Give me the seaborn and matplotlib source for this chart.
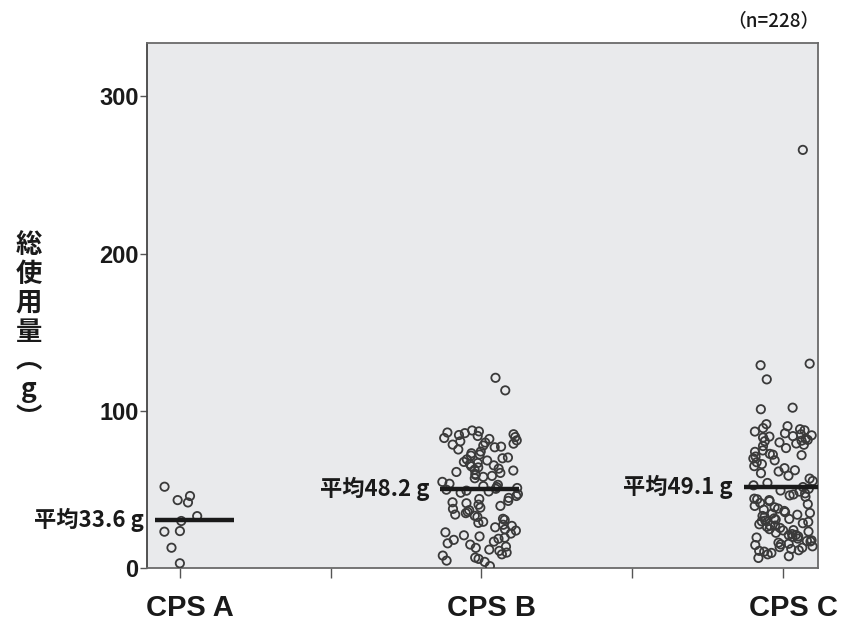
import numpy as np
import pandas as pd
import matplotlib
matplotlib.use("Agg")
import matplotlib.pyplot as plt
import matplotlib.transforms as mtrans
import seaborn as sns

# ---------------- data ----------------
groups = ["CPS A", "CPS B", "CPS C"]

vals_a = [51.7, 45.8, 43.2, 41.7, 33.0, 29.9, 23.5, 23.1, 12.9, 3.0]

vals_b = [121, 113,
          87.5, 86.2, 85.8, 85.1, 84.6, 84.0, 83.3, 82.7, 82.1, 81.2, 80.6, 79.8,
          79.1, 78.5, 77.9, 77.2, 76.8, 86.9,
          75.4, 74.1, 73.0, 72.2, 71.5, 70.3, 69.8, 69.1,
          68.4, 67.5, 66.8, 66.1, 65.3, 64.7, 64.0, 63.2, 62.6, 62.0, 61.1, 60.5,
          59.8, 59.2, 58.6, 58.0, 57.1,
          54.8, 53.6, 52.9, 52.1, 51.5, 50.9, 50.4, 49.8, 49.2, 48.7, 47.9, 47.0,
          45.8, 44.6, 43.9, 42.7, 41.8, 41.2, 40.3, 39.5, 38.4, 37.6, 36.8, 35.7,
          34.9, 34.0, 33.2, 32.5,
          31.3, 30.6, 29.4, 28.7, 27.5, 26.8, 25.9, 24.6, 23.8, 22.7, 21.9, 20.8,
          20.1, 19.3, 18.6, 17.9,
          16.8, 15.7, 14.9, 13.6, 12.8, 11.7, 10.9, 9.8, 8.7, 7.9, 6.6, 5.8, 4.7,
          3.9, 1.2]

vals_c = [266, 130, 129, 120, 102, 101,
          91.5, 90.2, 89.0, 88.3, 87.6, 86.8,
          85.7, 85.1, 84.4, 83.6, 83.0, 82.2, 81.5, 80.7, 79.9, 79.2, 78.4, 77.6,
          83.9, 81.0,
          76.3, 74.8, 73.9, 72.6, 71.8, 70.9, 69.7, 68.5, 67.3, 66.1, 64.8, 63.5,
          62.2, 61.4, 60.3, 72.1,
          58.7, 56.9, 55.4, 54.1, 52.6, 51.5,
          50.4, 49.3, 48.6, 47.5, 46.2, 45.3, 44.1, 43.2, 42.5, 41.4, 40.6, 39.5,
          46.8, 43.7,
          38.6, 37.8, 37.1, 36.3, 35.5, 34.6, 33.9, 33.1, 32.4, 31.6, 30.8, 30.1,
          29.3, 28.5, 27.8, 27.0, 26.2, 25.5, 24.7, 23.9, 23.2, 22.4, 21.6, 20.9,
          20.1, 19.4, 18.7, 35.0, 31.2, 26.9, 24.1, 21.0, 19.8, 29.7,
          17.6, 16.9, 16.1, 15.4, 14.6, 13.8, 12.9, 12.1, 11.3, 10.4, 9.6, 8.7,
          7.5, 6.4, 17.2, 15.0, 13.3, 10.9]

mean_labels = ["平均33.6 g", "平均48.2 g", "平均49.1 g"]
mean_line = [30.5, 50.3, 51.7]          # level of the drawn mean bar
n_label = "（n=228）"
y_label = "総\n使\n用\n量\n︵\ng\n︶"
y_ticks = [0, 100, 200, 300]

# ---------------- style ----------------
jitters = [0.06, 0.13, 0.10]
bar_span = [(-0.083, 0.18), (-0.136, 0.126), (-0.13, 0.13)]

sns.set_style("white")
plt.rcParams["font.family"] = ["Noto Sans CJK JP", "DejaVu Sans"]

df = pd.DataFrame({
    "group": ["CPS A"] * len(vals_a) + ["CPS B"] * len(vals_b) + ["CPS C"] * len(vals_c),
    "value": vals_a + vals_b + vals_c,
})

fig = plt.figure(figsize=(8.48, 6.28), dpi=100)
ax = fig.add_axes([147 / 848, 1 - 568 / 628, (818 - 147) / 848, (568 - 43) / 628])
ax.set_facecolor("#e9eaec")

np.random.seed(7)
for g, j in zip(groups, jitters):
    sns.stripplot(data=df[df["group"] == g], x="group", y="value", order=groups,
                  jitter=j, ax=ax, size=6, marker="o", linewidth=1.3)
for coll in ax.collections:
    coll.set_facecolor("none")
    coll.set_edgecolor("#3a3a3a")
    coll.set_linewidth(1.3)

for i, (lvl, lab, (lo, hi)) in enumerate(zip(mean_line, mean_labels, bar_span)):
    ax.hlines(lvl, i + lo, i + hi, color="#1a1a1a", linewidth=3.2, zorder=5)
    ax.annotate(lab, xy=(i + lo, lvl), xytext=(-8, 0), textcoords="offset points",
                ha="right", va="center", fontsize=16, fontweight="bold",
                color="#1a1a1a", annotation_clip=False)

ax.set_xlim(-0.109, 2.116)
ax.set_ylim(0, 334)
ax.set_xlabel("")
ax.set_ylabel("")

ax.set_yticks(y_ticks)
ax.set_yticklabels([str(t) for t in y_ticks], fontsize=17, fontweight="bold",
                   family=["Liberation Sans", "DejaVu Sans"], color="#1a1a1a")
ax.tick_params(axis="y", direction="out", length=5, width=1, color="#555555", pad=1, left=True)

ax.set_xticks([0, 0.5, 1, 1.5, 2])
ax.set_xticklabels(["CPS A", "", "CPS B", "", "CPS C"], fontsize=21, fontweight="bold",
                   family=["Liberation Sans", "DejaVu Sans"], color="#1a1a1a")
ax.tick_params(axis="x", direction="out", length=7, width=1, color="#555555", pad=11.5, bottom=True)
shift = mtrans.ScaledTranslation(10 / 100, 0, fig.dpi_scale_trans)
for lbl in ax.get_xticklabels():
    lbl.set_transform(lbl.get_transform() + shift)

for side in ["left", "right", "top", "bottom"]:
    ax.spines[side].set_visible(True)
    ax.spines[side].set_color("#6a6a6a")
    ax.spines[side].set_linewidth(1.3)
ax.spines["left"].set_color("#444444")

fig.text(29 / 848, 1 - 332 / 628, y_label, ha="center", va="center", fontsize=19,
         fontweight="bold", linespacing=1.08, color="#1a1a1a")
fig.text(773 / 848, 1 - 21 / 628, n_label, ha="center", va="center", fontsize=13.5,
         fontweight="medium", color="#1a1a1a")

fig.savefig("out.png", dpi=100)
